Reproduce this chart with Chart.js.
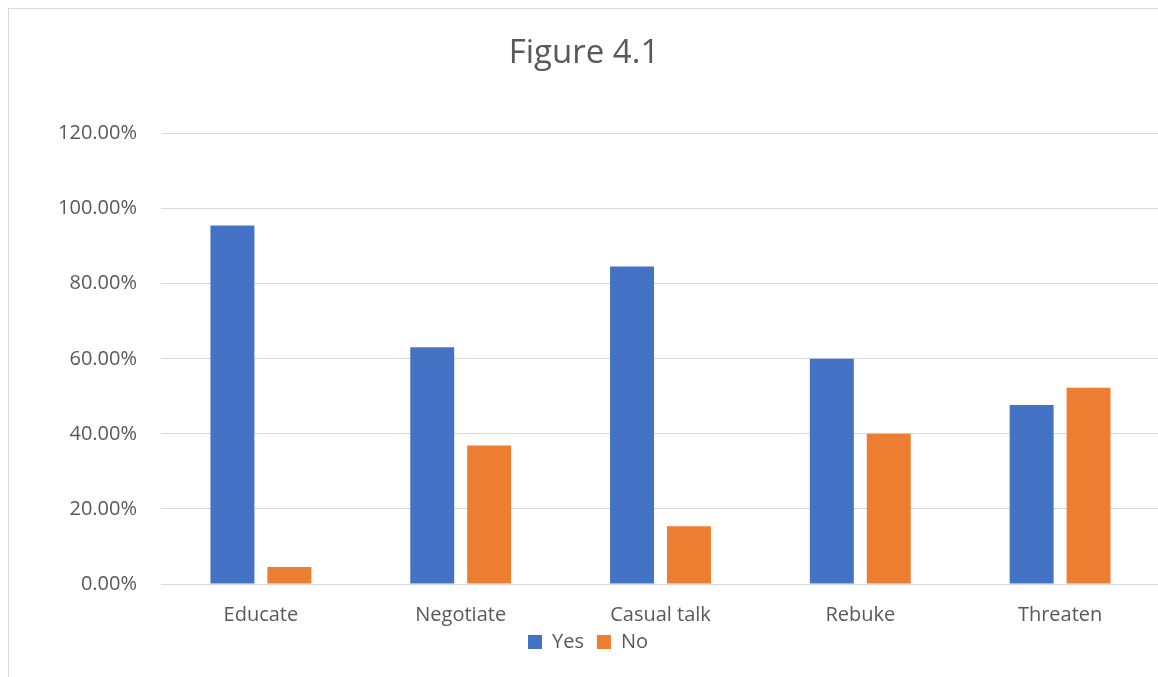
<!DOCTYPE html>
<html>
<head>
<meta charset="utf-8">
<title>Figure 4.1</title>
<script src="https://cdn.jsdelivr.net/npm/chart.js@4.4.1/dist/chart.umd.min.js"></script>
<style>
	html, body { margin: 0; padding: 0; background: #fff; overflow: hidden; }
	.frame {
		position: absolute; left: 8px; top: 8px;
		width: 1200px; height: 700px;
		border: 1px solid #d9d9d9; box-sizing: border-box;
	}
	.chart-wrap { position: absolute; left: 0; top: 0; width: 1170px; height: 677px; }
</style>
</head>
<body>
<div class="frame"></div>
<div class="chart-wrap"><canvas id="figureChart"></canvas></div>
<script>
const categories = ['Educate', 'Negotiate', 'Casual talk', 'Rebuke', 'Threaten'];
const yesValues = [0.955, 0.631, 0.846, 0.600, 0.477];
const noValues = [0.045, 0.369, 0.154, 0.400, 0.523];
const seriesNames = ['Yes', 'No'];

(function () {
	const textColor = '#595959';
	const gridColor = '#d9d9d9';
	const fontFamily = '"Open Sans", Lato, sans-serif';

	const shiftBox = (box, dx, dy) => {
		if (!box) return;
		box.left += dx;
		box.right += dx;
		box.top += dy;
		box.bottom += dy;
	};

	// legend sits tight under the category labels, closer than the layout allows;
	// title and legend are centred on the whole frame, not the plot
	const boxNudge = {
		id: 'boxNudge',
		afterLayout(chart) {
			shiftBox(chart.legend, 8, -8);
			shiftBox(chart.titleBlock, 4, 0);
		}
	};

	const ctx = document.getElementById('figureChart').getContext('2d');
	new Chart(ctx, {
		type: 'bar',
		data: {
			labels: categories,
			datasets: [{
				label: seriesNames[0],
				data: yesValues,
				backgroundColor: '#4472C4',
				barPercentage: 0.772,
				categoryPercentage: 0.57
			}, {
				label: seriesNames[1],
				data: noValues,
				backgroundColor: '#ED7D31',
				barPercentage: 0.772,
				categoryPercentage: 0.57
			}]
		},
		plugins: [boxNudge],
		options: {
			responsive: true,
			maintainAspectRatio: false,
			animation: false,
			layout: { padding: { left: 0, right: 10, top: 0, bottom: 7 } },
			plugins: {
				title: {
					display: true,
					text: 'Figure 4.1',
					color: textColor,
					font: { family: fontFamily, size: 33, weight: 'normal' },
					padding: { top: 34, bottom: 60 }
				},
				legend: {
					position: 'bottom',
					labels: {
						color: textColor,
						font: { family: fontFamily, size: 20 },
						boxWidth: 14,
						boxHeight: 14,
						padding: 13
					}
				},
				tooltip: { enabled: false }
			},
			scales: {
				x: {
					afterFit(scale) { scale.height = 43; },
					grid: { display: false, drawTicks: false },
					border: { color: gridColor, width: 1 },
					ticks: {
						color: textColor,
						font: { family: fontFamily, size: 20 },
						padding: 19.5
					}
				},
				y: {
					min: 0,
					max: 1.2,
					afterFit(scale) { scale.width = 161; },
					grid: { color: gridColor, lineWidth: 1, drawTicks: false },
					border: { display: false },
					ticks: {
						stepSize: 0.2,
						color: textColor,
						font: { family: fontFamily, size: 20 },
						padding: 24,
						callback: (v) => (v * 100).toFixed(2) + '%'
					}
				}
			}
		}
	});
})();
</script>
</body>
</html>
